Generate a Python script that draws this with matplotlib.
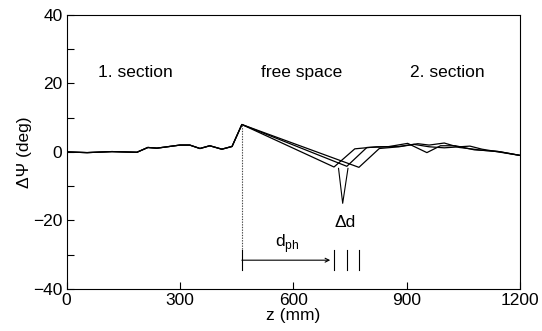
import matplotlib
matplotlib.use("Agg")
import matplotlib.pyplot as plt
from matplotlib.ticker import MultipleLocator

plt.rcParams["font.family"] = ["Liberation Sans", "DejaVu Sans"]

# shared part: 1. section up to the end of the first section
z_common = [0, 54, 120, 186, 215, 239, 300, 326, 353, 379, 411, 438, 464]
psi_common = [0.0, -0.2, 0.1, -0.1, 1.3, 1.1, 2.0, 2.0, 1.0, 1.8, 0.8, 1.6, 8.0]

# free space + 2. section, one run per section position
z_a = [708, 763, 820, 880, 930, 960, 1000, 1040, 1100, 1150, 1200]
psi_a = [-4.4, 0.9, 1.5, 1.6, 2.4, 2.0, 2.6, 1.3, 0.5, 0.0, -1.0]
z_b = [742, 795, 850, 903, 954, 990, 1030, 1080, 1140, 1200]
psi_b = [-4.2, 1.3, 1.5, 2.5, -0.2, 1.8, 1.8, 0.6, 0.2, -1.0]
z_c = [774, 828, 880, 920, 960, 1000, 1068, 1100, 1160, 1200]
psi_c = [-4.5, 1.0, 1.5, 2.2, 1.5, 1.2, 1.7, 0.8, -0.3, -1.0]

z_ends = [708, 742, 774]   # where the sections start (d_ph marks)
z_free = 464               # end of 1. section

fig = plt.figure(figsize=(5.42, 3.31), dpi=100)
ax = fig.add_axes([0.123, 0.127, 0.836, 0.828])

for zz, pp in [(z_a, psi_a), (z_b, psi_b), (z_c, psi_c)]:
    ax.plot(z_common + zz, psi_common + pp, color="black", lw=0.9)

# dotted marker at the end of the first section
ax.plot([z_free, z_free], [psi_common[-1], -28.5], color="#444444", lw=0.8, ls=(0, (1.2, 1.2)))
ax.plot([z_free, z_free], [-28.5, -34.5], color="black", lw=0.8)
for z in z_ends:
    ax.plot([z, z], [-28.5, -34.5], color="black", lw=0.8)
ax.annotate("", xy=(z_ends[0] - 10, -31.6), xytext=(z_free, -31.6),
            arrowprops=dict(arrowstyle="->", lw=0.8, color="black",
                            shrinkA=0, shrinkB=0, mutation_scale=7))
ax.text(583, -26.7, r"d$_\mathregular{ph}$", ha="center", va="center", fontsize=12.5)

# Delta d pointer
ax.plot([720, 731, 745], [-4.8, -15, -4.8], color="black", lw=0.8)
ax.text(737, -20.5, "\u0394d", ha="center", va="center", fontsize=12.5)

ax.text(181, 23.3, "1. section", ha="center", va="center", fontsize=12.5)
ax.text(622, 23.3, "free space", ha="center", va="center", fontsize=12.5)
ax.text(1009, 23.3, "2. section", ha="center", va="center", fontsize=12.5)

ax.set_xlim(0, 1200)
ax.set_ylim(-40, 40)
ax.xaxis.set_major_locator(MultipleLocator(300))
ax.yaxis.set_major_locator(MultipleLocator(20))
ax.yaxis.set_minor_locator(MultipleLocator(10))
ax.tick_params(direction="in", length=5, width=0.8, labelsize=12.5, pad=3)
ax.tick_params(which="minor", direction="in", length=5, width=0.8)
for s in ax.spines.values():
    s.set_linewidth(0.8)

ax.set_xlabel("z (mm)", fontsize=12.5, labelpad=0)
ax.set_ylabel("\u0394\u03a8 (deg)", fontsize=12.5, labelpad=1)

fig.savefig("out.png", dpi=100)
